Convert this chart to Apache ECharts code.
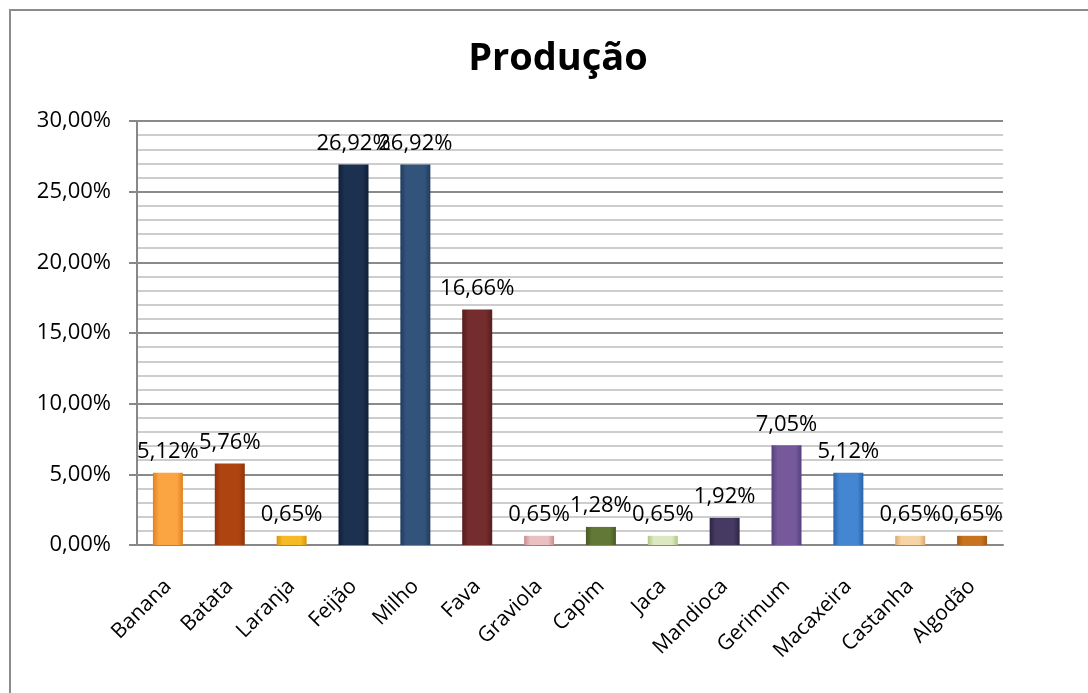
<!DOCTYPE html>
<html>
<head>
<meta charset="utf-8">
<script src="https://cdn.jsdelivr.net/npm/echarts@6/dist/echarts.min.js"></script>
<style>
  html, body { margin: 0; padding: 0; background: #fff; }
  #main { width: 1088px; height: 693px; }
</style>
</head>
<body>
<div id="main"></div>
<script>
// dados do gráfico
var categorias = ['Banana', 'Batata', 'Laranja', 'Feijão', 'Milho', 'Fava', 'Graviola',
  'Capim', 'Jaca', 'Mandioca', 'Gerimum', 'Macaxeira', 'Castanha', 'Algodão'];
var valores = [5.12, 5.76, 0.65, 26.92, 26.92, 16.66, 0.65, 1.28, 0.65, 1.92, 7.05, 5.12, 0.65, 0.65];
// cor da borda / cor do meio de cada barra
var coresBorda = ['#E0821F', '#8E3408', '#D8960C', '#0F1E36', '#213C5E', '#561C1C', '#C98B8B',
  '#465924', '#AFC584', '#2E2545', '#56407A', '#2A64A8', '#D9A870', '#A35812'];
var coresMeio = ['#FBA542', '#AE4510', '#F6BA26', '#1C3150', '#33547A', '#742C2C', '#EBC0C0',
  '#627836', '#DCE9C0', '#463A62', '#75599A', '#4586D2', '#F7D3A6', '#C8741F'];

function fmt(v) {
  return v.toFixed(2).replace('.', ',') + '%';
}

var chart = echarts.init(document.getElementById('main'), null, { renderer: 'canvas' });

var dados = valores.map(function (v, i) {
  return {
    value: v,
    itemStyle: {
      color: new echarts.graphic.LinearGradient(0, 0, 1, 0, [
        { offset: 0, color: coresBorda[i] },
        { offset: 0.2, color: coresMeio[i] },
        { offset: 0.8, color: coresMeio[i] },
        { offset: 1, color: coresBorda[i] }
      ])
    }
  };
});

var option = {
  backgroundColor: '#fff',
  animation: false,
  textStyle: { fontFamily: 'Open Sans' },
  title: {
    text: 'Produção',
    left: 553,
    textAlign: 'center',
    top: 35,
    textStyle: { fontFamily: 'Open Sans', fontWeight: 'bold', fontSize: 38, color: '#000' }
  },
  graphic: [{
    type: 'rect',
    shape: { x: 10, y: 10, width: 1200, height: 800 },
    style: { fill: 'none', stroke: '#8c8c8c', lineWidth: 2 },
    silent: true
  }],
  grid: { left: 137, right: 85, top: 121, bottom: 148 },
  xAxis: {
    type: 'category',
    data: categorias,
    axisLine: { lineStyle: { color: '#888', width: 2 } },
    axisTick: { show: false },
    axisLabel: {
      rotate: 45,
      interval: 0,
      margin: 38,
      fontSize: 21,
      color: '#000',
      fontFamily: 'Open Sans'
    }
  },
  yAxis: {
    type: 'value',
    min: 0,
    max: 30,
    interval: 5,
    axisLine: { show: true, lineStyle: { color: '#888', width: 2 } },
    axisTick: { show: true, length: 8, lineStyle: { color: '#888', width: 2 } },
    axisLabel: {
      margin: 26,
      fontSize: 22,
      color: '#000',
      fontFamily: 'Open Sans',
      formatter: function (v) { return fmt(v); }
    },
    splitLine: { show: true, lineStyle: { color: '#8a8a8a', width: 2 } },
    minorTick: { show: false, splitNumber: 5 },
    minorSplitLine: { show: true, lineStyle: { color: '#bdbdbd', width: 1.5 } }
  },
  series: [{
    type: 'bar',
    data: dados,
    barWidth: 30,
    label: {
      show: true,
      position: 'top',
      distance: 10,
      fontSize: 22,
      color: '#000',
      fontFamily: 'Open Sans',
      formatter: function (p) { return fmt(p.value); }
    }
  }]
};

chart.setOption(option);
</script>
</body>
</html>
